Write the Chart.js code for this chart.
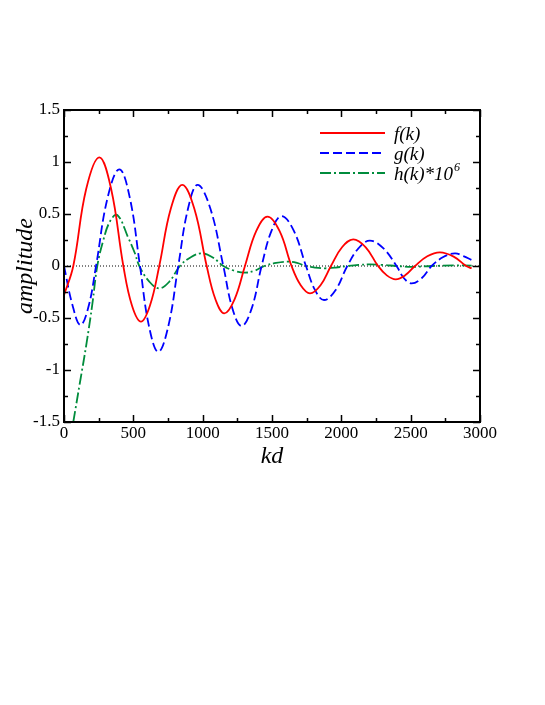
<!DOCTYPE html>
<html>
<head>
<meta charset="utf-8">
<script src="https://cdn.jsdelivr.net/npm/chart.js@4.4.1/dist/chart.umd.min.js"></script>
<style>
  html, body { margin: 0; padding: 0; background: #fff; }
  #wrap { width: 545px; height: 705px; }
</style>
</head>
<body>
<div id="wrap"><canvas id="chart" width="545" height="705"></canvas></div>
<script>
// values (kd, amplitude)
const kdF = [0, 67, 160, 255, 340, 428, 490, 555, 620, 687, 770, 853, 940, 1029, 1092, 1156, 1230, 1305, 1386, 1468, 1555, 1641, 1707, 1774, 1850, 1925, 2005, 2086, 2176, 2265, 2328, 2392, 2460, 2531, 2620, 2711, 2810, 2900, 2940];
const fVals = [-0.28, 0, 0.74, 1.045, 0.74, 0, -0.38, -0.535, -0.38, 0, 0.55, 0.78, 0.55, 0, -0.32, -0.455, -0.32, 0, 0.335, 0.474, 0.335, 0, -0.185, -0.263, -0.185, 0, 0.18, 0.256, 0.18, 0, -0.09, -0.128, -0.09, 0, 0.093, 0.131, 0.09, 0, -0.022];

const kdG = [0, 60, 118, 175, 231, 315, 399, 474, 548, 613, 680, 752, 824, 894, 964, 1056, 1149, 1215, 1281, 1353, 1425, 1497, 1569, 1657, 1745, 1810, 1875, 1959, 2043, 2125, 2206, 2302, 2398, 2452, 2507, 2579, 2651, 2735, 2819, 2880, 2940];
const gVals = [0, -0.37, -0.567, -0.4, 0, 0.66, 0.93, 0.66, 0, -0.58, -0.825, -0.58, 0, 0.55, 0.78, 0.55, 0, -0.41, -0.577, -0.41, 0, 0.34, 0.48, 0.34, 0, -0.23, -0.327, -0.23, 0, 0.172, 0.244, 0.172, 0, -0.118, -0.167, -0.118, 0, 0.086, 0.122, 0.095, 0.058];

const kdH = [67, 115, 163, 205, 240, 284, 332, 384, 464, 512, 543, 615, 687, 760, 836, 915, 993, 1070, 1149, 1227, 1305, 1375, 1445, 1530, 1617, 1680, 1745, 1810, 1882, 1960, 2043, 2125, 2206, 2300, 2398, 2507, 2651, 2819, 2940];
const hVals = [-1.5, -1.12, -0.74, -0.36, 0, 0.25, 0.43, 0.49, 0.27, 0.12, 0, -0.15, -0.215, -0.15, 0, 0.085, 0.122, 0.085, 0, -0.045, -0.064, -0.045, 0, 0.03, 0.042, 0.03, 0, -0.016, -0.022, -0.015, 0, 0.011, 0.015, 0.01, 0, -0.008, 0, 0.006, 0.004];

const kdZero = [0, 3000];
const zeroVals = [0, 0];

const xTicks = [0, 500, 1000, 1500, 2000, 2500, 3000];
const yTicks = [-1.5, -1, -0.5, 0, 0.5, 1, 1.5];

const legendItems = [
  { text: "f(k)", sup: "", color: "#ff0000", dash: [] },
  { text: "g(k)", sup: "", color: "#0000ff", dash: [9, 4] },
  { text: "h(k)*10", sup: "6", color: "#008c3c", dash: [11, 3, 2, 3] }
];

const SERIF = "'Liberation Serif', 'Times New Roman', serif";

function toPoints(xs, ys) {
  return xs.map((x, i) => ({ x: x, y: ys[i] }));
}

// frame, inward ticks, axis titles and legend
const decorPlugin = {
  id: "decor",
  afterDraw(chart) {
    const ctx = chart.ctx;
    const a = chart.chartArea;
    const xs = chart.scales.x;
    const ys = chart.scales.y;

    ctx.save();
    ctx.strokeStyle = "#000";
    ctx.lineWidth = 1.5;
    ctx.setLineDash([]);
    ctx.beginPath();
    for (let v = 0; v <= 3000; v += 250) {
      const px = Math.round(xs.getPixelForValue(v)) + 0.5;
      const len = v % 500 === 0 ? 7 : 4;
      ctx.moveTo(px, a.bottom); ctx.lineTo(px, a.bottom - len);
      ctx.moveTo(px, a.top); ctx.lineTo(px, a.top + len);
    }
    for (let i = 0; i <= 12; i++) {
      const v = -1.5 + i * 0.25;
      const py = Math.round(ys.getPixelForValue(v)) + 0.5;
      const len = i % 2 === 0 ? 7 : 4;
      ctx.moveTo(a.left, py); ctx.lineTo(a.left + len, py);
      ctx.moveTo(a.right, py); ctx.lineTo(a.right - len, py);
    }
    ctx.stroke();

    ctx.lineWidth = 2;
    ctx.strokeRect(a.left, a.top, a.right - a.left, a.bottom - a.top);

    // axis titles
    ctx.fillStyle = "#000";
    ctx.font = "italic 24px " + SERIF;
    ctx.textAlign = "center";
    ctx.textBaseline = "middle";
    ctx.fillText("kd", (a.left + a.right) / 2, 457);
    ctx.save();
    ctx.translate(26, (a.top + a.bottom) / 2);
    ctx.rotate(-Math.PI / 2);
    ctx.fillText("amplitude", 0, 0);
    ctx.restore();

    // legend
    const rows = [133, 153, 173];
    legendItems.forEach((it, i) => {
      const y = rows[i];
      ctx.strokeStyle = it.color;
      ctx.lineWidth = 1.8;
      ctx.setLineDash(it.dash);
      ctx.beginPath();
      ctx.moveTo(320, y);
      ctx.lineTo(385, y);
      ctx.stroke();
      ctx.setLineDash([]);
      ctx.fillStyle = "#000";
      ctx.font = "italic 19px " + SERIF;
      ctx.textAlign = "left";
      ctx.textBaseline = "alphabetic";
      ctx.fillText(it.text, 394, y + 7);
      if (it.sup) {
        const w = ctx.measureText(it.text).width;
        ctx.font = "italic 12px " + SERIF;
        ctx.fillText(it.sup, 394 + w + 1, y - 2);
      }
    });
    ctx.restore();
  }
};

const ctx = document.getElementById("chart").getContext("2d");
new Chart(ctx, {
  type: "line",
  data: {
    datasets: [
      {
        label: "f(k)",
        data: toPoints(kdF, fVals),
        borderColor: "#ff0000",
        borderWidth: 1.8,
        tension: 0.4
      },
      {
        label: "g(k)",
        data: toPoints(kdG, gVals),
        borderColor: "#0000ff",
        borderWidth: 1.8,
        borderDash: [9, 4],
        tension: 0.4
      },
      {
        label: "h(k)*10^6",
        data: toPoints(kdH, hVals),
        borderColor: "#008c3c",
        borderWidth: 1.8,
        borderDash: [11, 3, 2, 3],
        tension: 0.4
      },
      {
        label: "zero",
        data: toPoints(kdZero, zeroVals),
        borderColor: "#000",
        borderWidth: 1,
        borderDash: [1, 2]
      }
    ]
  },
  options: {
    responsive: false,
    devicePixelRatio: 1,
    animation: false,
    layout: { padding: { left: 0, top: 110, right: 65, bottom: 253 } },
    elements: { point: { radius: 0 } },
    plugins: {
      legend: { display: false },
      tooltip: { enabled: false }
    },
    scales: {
      x: {
        type: "linear",
        min: 0,
        max: 3000,
        afterBuildTicks: (s) => { s.ticks = xTicks.map(v => ({ value: v })); },
        ticks: {
          font: { family: SERIF, size: 17 },
          color: "#000",
          padding: 1,
          maxRotation: 0,
          autoSkip: false,
          callback: (v) => String(v)
        },
        grid: { display: false, drawTicks: false },
        border: { display: false },
        afterFit: (s) => { s.height = 30; s.paddingLeft = 0; s.paddingRight = 0; }
      },
      y: {
        type: "linear",
        min: -1.5,
        max: 1.5,
        afterBuildTicks: (s) => { s.ticks = yTicks.map(v => ({ value: v })); },
        ticks: {
          font: { family: SERIF, size: 17 },
          color: "#000",
          padding: 4,
          callback: (v) => String(Math.round(v * 100) / 100)
        },
        grid: { display: false, drawTicks: false },
        border: { display: false },
        afterFit: (s) => { s.width = 64; s.paddingTop = 0; s.paddingBottom = 0; }
      }
    }
  },
  plugins: [decorPlugin]
});
</script>
</body>
</html>
